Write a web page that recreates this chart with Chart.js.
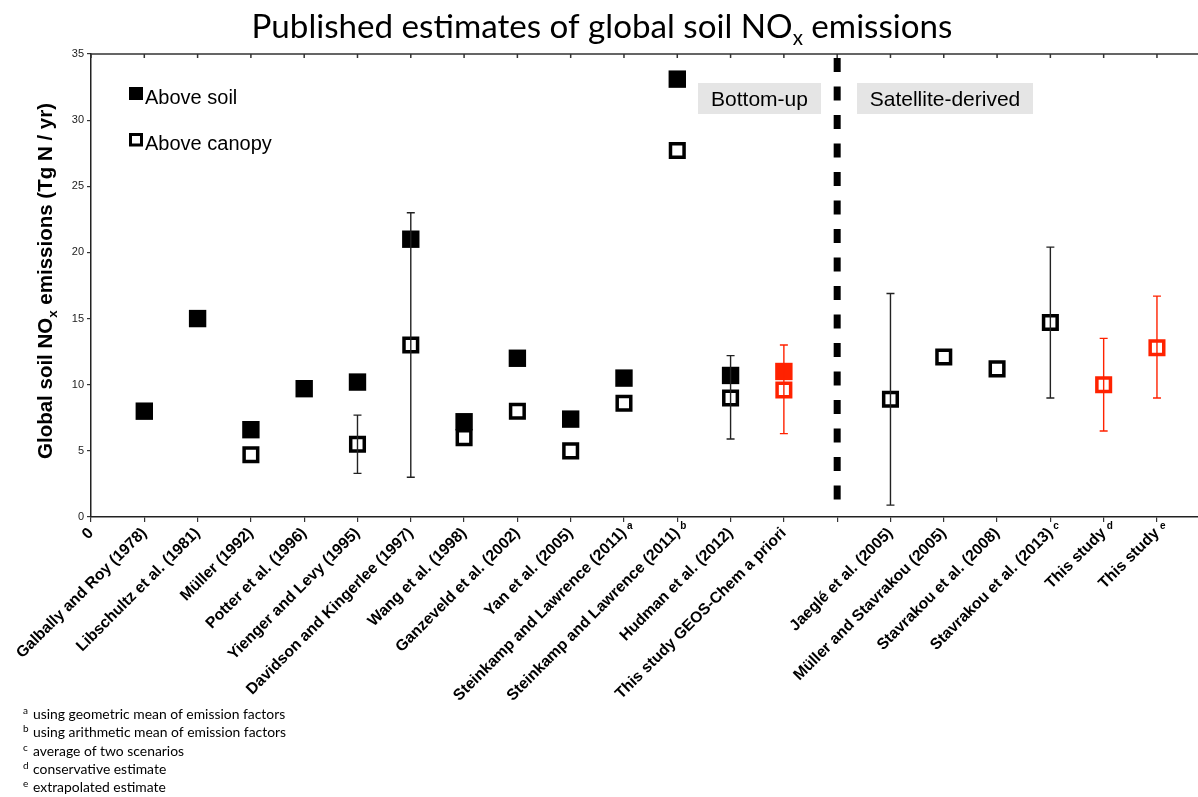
<!DOCTYPE html>
<html>
<head>
<meta charset="utf-8">
<script src="https://cdn.jsdelivr.net/npm/chart.js@4"></script>
<style>
  html, body { margin: 0; padding: 0; background: #fff; }
  #wrap { width: 1198px; height: 797px; position: relative; }
</style>
</head>
<body>
<div id="wrap"><canvas id="c" width="1198" height="797"></canvas></div>
<script>
// Studies along the x axis (position = array index; index 14 is the gap at the divider)
const categories = [
  "0",
  "Galbally and Roy (1978)",
  "Libschultz et al. (1981)",
  "Müller (1992)",
  "Potter et al. (1996)",
  "Yienger and Levy (1995)",
  "Davidson and Kingerlee (1997)",
  "Wang et al. (1998)",
  "Ganzeveld et al. (2002)",
  "Yan et al. (2005)",
  "Steinkamp and Lawrence (2011)",
  "Steinkamp and Lawrence (2011)",
  "Hudman et al. (2012)",
  "This study GEOS-Chem a priori",
  "",
  "Jaeglé et al. (2005)",
  "Müller and Stavrakou (2005)",
  "Stavrakou et al. (2008)",
  "Stavrakou et al. (2013)",
  "This study",
  "This study"
];
// Footnote letters attached to the category labels
const footMarks = ["", "", "", "", "", "", "", "", "", "", "a", "b", "", "", "", "", "", "", "c", "d", "e"];

// Emissions, Tg N / yr
const aboveSoil   = [null, 8.0, 15.0, 6.6, 9.7, 10.2, 21.0, 7.2, 12.0, 7.4, 10.5, 33.1, 10.7, 11.0, null, null, null, null, null, null, null];
const aboveCanopy = [null, null, null, 4.7, null, 5.5, 13.0, 6.0, 8.0, 5.0, 8.6, 27.7, 9.0, 9.6, null, 8.9, 12.1, 11.2, 14.7, 10.0, 12.8];
// Uncertainty ranges
const errLow  = [null, null, null, null, null, 3.3, 3.0, null, null, null, null, null, 5.9, 6.3, null, 0.9, null, null, 9.0, 6.5, 9.0];
const errHigh = [null, null, null, null, null, 7.7, 23.0, null, null, null, null, null, 12.2, 13.0, null, 16.9, null, null, 20.4, 13.5, 16.7];

// Estimates from this study (drawn in red)
const thisStudyIdx = [13, 19, 20];
// Split between bottom-up and satellite-derived estimates
const dividerAt = 14;

const notes = [
  ["a", "using geometric mean of emission factors"],
  ["b", "using arithmetic mean of emission factors"],
  ["c", "average of two scenarios"],
  ["d", "conservative estimate"],
  ["e", "extrapolated estimate"]
];

const RED = "#ff2200";
const SANS = "'Liberation Sans', Arial, Helvetica, sans-serif";
const HUMANIST = "Lato, 'Open Sans', sans-serif";
const colorAt = i => thisStudyIdx.includes(i) ? RED : "#000";

const toPoints = arr => arr.map((v, i) => (v == null ? null : { x: i, y: v })).filter(p => p);

// Draws text with a subscript between two runs, starting at x (left aligned)
function drawSubText(ctx, x, y, pre, sub, post, size, weight, family, subScale, subDrop) {
  ctx.font = `${weight} ${size}px ${family}`;
  const w1 = ctx.measureText(pre).width;
  ctx.fillText(pre, x, y);
  ctx.font = `${weight} ${size * subScale}px ${family}`;
  const w2 = ctx.measureText(sub).width;
  ctx.fillText(sub, x + w1, y + subDrop);
  ctx.font = `${weight} ${size}px ${family}`;
  ctx.fillText(post, x + w1 + w2, y);
}
function subTextWidth(ctx, pre, sub, post, size, weight, family, subScale) {
  ctx.font = `${weight} ${size}px ${family}`;
  let w = ctx.measureText(pre).width + ctx.measureText(post).width;
  ctx.font = `${weight} ${size * subScale}px ${family}`;
  return w + ctx.measureText(sub).width;
}

const decor = {
  id: "decor",
  beforeDatasetsDraw(chart) {
    const { ctx, scales: { x } } = chart;
    const px = x.getPixelForValue(dividerAt);
    ctx.save();
    ctx.strokeStyle = "#000";
    ctx.lineWidth = 7;
    ctx.setLineDash([14, 14.5]);
    ctx.beginPath();
    ctx.moveTo(px, 58);
    ctx.lineTo(px, 513);
    ctx.stroke();
    ctx.restore();
  },
  afterDatasetsDraw(chart) {
    const { ctx, scales: { x, y } } = chart;
    ctx.save();
    ctx.lineWidth = 1.4;
    errLow.forEach((lo, i) => {
      const hi = errHigh[i];
      if (lo == null || hi == null) return;
      const px = x.getPixelForValue(i);
      const y0 = y.getPixelForValue(lo), y1 = y.getPixelForValue(hi);
      ctx.strokeStyle = thisStudyIdx.includes(i) ? RED : "#222";
      ctx.beginPath();
      ctx.moveTo(px, y0); ctx.lineTo(px, y1);
      ctx.moveTo(px - 4, y0); ctx.lineTo(px + 4, y0);
      ctx.moveTo(px - 4, y1); ctx.lineTo(px + 4, y1);
      ctx.stroke();
    });
    ctx.restore();
  },
  afterDraw(chart) {
    const { ctx, chartArea: a, scales: { x } } = chart;
    ctx.save();

    // top frame line with inward ticks
    ctx.strokeStyle = "#333";
    ctx.lineWidth = 1.5;
    ctx.beginPath();
    ctx.moveTo(a.left, a.top); ctx.lineTo(a.right, a.top);
    categories.forEach((_, i) => {
      const px = x.getPixelForValue(i);
      ctx.moveTo(px, a.top); ctx.lineTo(px, a.top + 4);
    });
    ctx.stroke();

    // footnote letters on the x labels
    ctx.fillStyle = "#000";
    ctx.font = `bold 10px ${SANS}`;
    ctx.textAlign = "left";
    ctx.textBaseline = "middle";
    footMarks.forEach((m, i) => {
      if (!m) return;
      ctx.fillText(m, x.getPixelForValue(i) + 3, a.bottom + 9);
    });

    // title
    ctx.textBaseline = "alphabetic";
    const tPre = "Published estimates of global soil NO", tPost = " emissions";
    let ts = 34;
    const tw0 = subTextWidth(ctx, tPre, "x", tPost, ts, "normal", HUMANIST, 0.62);
    ts = ts * 701 / tw0;
    const tw = subTextWidth(ctx, tPre, "x", tPost, ts, "normal", HUMANIST, 0.62);
    drawSubText(ctx, 602 - tw / 2, 38, tPre, "x", tPost, ts, "normal", HUMANIST, 0.62, 7);

    // y axis title
    ctx.save();
    ctx.translate(52, 281);
    ctx.rotate(-Math.PI / 2);
    const yPre = "Global soil NO", yPost = " emissions (Tg N / yr)";
    const ys = 20.5;
    const yw = subTextWidth(ctx, yPre, "x", yPost, ys, "bold", SANS, 0.65);
    drawSubText(ctx, -yw / 2, 0, yPre, "x", yPost, ys, "bold", SANS, 0.65, 5);
    ctx.restore();

    // legend
    ctx.fillStyle = "#000";
    ctx.fillRect(129, 87, 14, 13);
    ctx.strokeStyle = "#000";
    ctx.lineWidth = 3;
    ctx.strokeRect(130.5, 134.5, 11, 10.5);
    ctx.font = `20px ${SANS}`;
    ctx.fillText("Above soil", 145, 103.5);
    ctx.fillText("Above canopy", 145, 150);

    // section labels
    ctx.fillStyle = "#e5e5e5";
    ctx.fillRect(698, 83, 123, 31);
    ctx.fillRect(857, 83, 176, 31);
    ctx.fillStyle = "#000";
    ctx.font = `21px ${SANS}`;
    ctx.textAlign = "center";
    ctx.fillText("Bottom-up", 759.5, 105.5);
    ctx.fillText("Satellite-derived", 945, 105.5);

    // footnotes
    ctx.textAlign = "left";
    notes.forEach(([m, t], k) => {
      const by = 719 + k * 18.3;
      ctx.font = `10px ${HUMANIST}`;
      ctx.fillText(m, 23, by - 5);
      ctx.font = `13.9px ${HUMANIST}`;
      ctx.fillText(t, 33, by);
    });

    ctx.restore();
  }
};

new Chart(document.getElementById("c"), {
  type: "scatter",
  data: {
    datasets: [
      {
        label: "Above canopy",
        data: toPoints(aboveCanopy),
        pointStyle: "rect",
        pointRadius: 9.6,
        pointHoverRadius: 9.6,
        borderWidth: 3.5,
        pointBorderWidth: 3.5,
        pointBackgroundColor: "#fff",
        pointBorderColor: c => colorAt(c.raw ? c.raw.x : -1)
      },
      {
        label: "Above soil",
        data: toPoints(aboveSoil),
        pointStyle: "rect",
        pointRadius: 12.3,
        pointHoverRadius: 12.3,
        borderWidth: 0,
        pointBorderWidth: 0,
        pointBackgroundColor: c => colorAt(c.raw ? c.raw.x : -1)
      }
    ]
  },
  options: {
    responsive: false,
    animation: false,
    devicePixelRatio: 1,
    layout: { autoPadding: false, padding: { top: 54, left: 0, right: 0, bottom: 0 } },
    plugins: { legend: { display: false }, tooltip: { enabled: false }, title: { display: false } },
    scales: {
      x: {
        type: "linear",
        min: 0,
        max: 20.77,
        afterBuildTicks: s => { s.ticks = categories.map((_, i) => ({ value: i })); },
        afterFit: s => { s.height = 280; s.paddingLeft = 0; s.paddingRight = 0; },
        ticks: {
          autoSkip: false,
          maxRotation: 45,
          minRotation: 45,
          padding: 2,
          color: "#000",
          font: { family: SANS, size: 15.7, weight: "bold" },
          callback: v => categories[v] ?? ""
        },
        grid: { drawOnChartArea: false, drawTicks: true, tickLength: 5, color: "#333", lineWidth: 1.2 },
        border: { color: "#222", width: 1.5 }
      },
      y: {
        min: 0,
        max: 35,
        afterFit: s => { s.width = 91; s.paddingTop = 0; s.paddingBottom = 0; },
        afterBuildTicks: s => { s.ticks = [0, 5, 10, 15, 20, 25, 30, 35].map(v => ({ value: v })); },
        ticks: { padding: 3, color: "#222", font: { family: SANS, size: 11 } },
        grid: { drawOnChartArea: false, drawTicks: true, tickLength: 4, color: "#333", lineWidth: 1.2 },
        border: { color: "#222", width: 1.5 }
      }
    }
  },
  plugins: [decor]
});
</script>
</body>
</html>
